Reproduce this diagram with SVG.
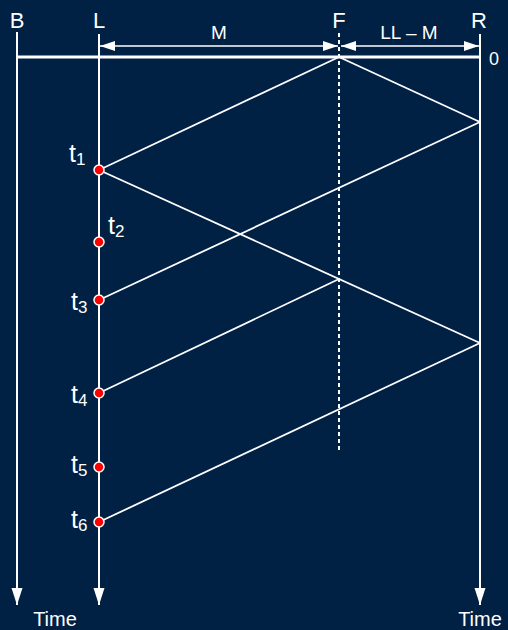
<svg xmlns="http://www.w3.org/2000/svg" width="508" height="630" viewBox="0 0 508 630">
<style>
.bg{fill:#002044}
.ax{stroke:#fff;stroke-width:2;fill:none}
.base{stroke:#fff;stroke-width:3;fill:none}
.dg{stroke:#fff;stroke-width:1.8;fill:none}
.dash{stroke:#fff;stroke-width:2;stroke-dasharray:4 3;fill:none}
.dim{stroke:#fff;stroke-width:1.5;fill:none}
.dot{fill:#f00;stroke:#fff;stroke-width:1.5}
text{fill:#fff;font-family:"Liberation Sans",Arial,sans-serif}
.ttl{font-size:22px;text-anchor:middle}
.lbl{font-size:19px;text-anchor:middle}
.t{font-size:25px}
.sub{font-size:17px}
</style>
<defs>
<marker id="down" markerUnits="userSpaceOnUse" markerWidth="17" markerHeight="12" refX="17" refY="6" orient="auto" viewBox="0 0 17 12"><path d="M0,0.5 L17,6 L0,11.5 z" fill="#fff"/></marker>
<marker id="dimA" markerUnits="userSpaceOnUse" markerWidth="15" markerHeight="10" refX="15" refY="5" orient="auto-start-reverse" viewBox="0 0 15 10"><path d="M0,0 L15,5 L0,10 z" fill="#fff"/></marker>
</defs>
<rect class="bg" x="0" y="0" width="508" height="630"/>
<g id="connectors">
<line class="ax" x1="17" y1="32" x2="17" y2="605" marker-end="url(#down)"/>
<line class="ax" x1="99" y1="34" x2="99" y2="605" marker-end="url(#down)"/>
<line class="ax" x1="480" y1="34" x2="480" y2="605" marker-end="url(#down)"/>
<line class="dash" x1="339" y1="33" x2="339" y2="452"/>
<line class="base" x1="17" y1="57" x2="480" y2="57"/>
<line class="dim" x1="100" y1="46" x2="338" y2="46" marker-start="url(#dimA)" marker-end="url(#dimA)"/>
<line class="dim" x1="341" y1="46" x2="479" y2="46" marker-start="url(#dimA)" marker-end="url(#dimA)"/>
<line class="dg" x1="99" y1="170" x2="339" y2="57"/>
<line class="dg" x1="339" y1="57" x2="480" y2="122"/>
<line class="dg" x1="99" y1="170" x2="480" y2="343"/>
<line class="dg" x1="99" y1="300" x2="480" y2="122"/>
<line class="dg" x1="99" y1="393" x2="339" y2="279"/>
<line class="dg" x1="99" y1="522" x2="480" y2="343"/>
</g>
<g id="labels">
<text class="ttl" x="17" y="28">B</text>
<text class="ttl" x="99" y="28">L</text>
<text class="ttl" x="339" y="28">F</text>
<text class="ttl" x="479" y="28">R</text>
<text class="lbl" x="219" y="39">M</text>
<text class="lbl" x="409" y="39">LL – M</text>
<text class="lbl" x="494" y="65" style="font-size:18px">0</text>
<text class="lbl" x="55" y="626" style="font-size:20px">Time</text>
<text class="lbl" x="480" y="626" style="font-size:20px">Time</text>
</g>
<g id="t1"><circle class="dot" cx="99" cy="170" r="5"/><text class="t" x="69" y="162">t<tspan class="sub" dy="3">1</tspan></text></g>
<g id="t2"><circle class="dot" cx="99" cy="242" r="5"/><text class="t" x="108" y="234">t<tspan class="sub" dy="3">2</tspan></text></g>
<g id="t3"><circle class="dot" cx="99" cy="300" r="5"/><text class="t" x="71" y="310">t<tspan class="sub" dy="3">3</tspan></text></g>
<g id="t4"><circle class="dot" cx="99" cy="393" r="5"/><text class="t" x="71" y="403">t<tspan class="sub" dy="3">4</tspan></text></g>
<g id="t5"><circle class="dot" cx="99" cy="467" r="5"/><text class="t" x="71" y="473">t<tspan class="sub" dy="3">5</tspan></text></g>
<g id="t6"><circle class="dot" cx="99" cy="522" r="5"/><text class="t" x="71" y="528">t<tspan class="sub" dy="3">6</tspan></text></g>
</svg>
